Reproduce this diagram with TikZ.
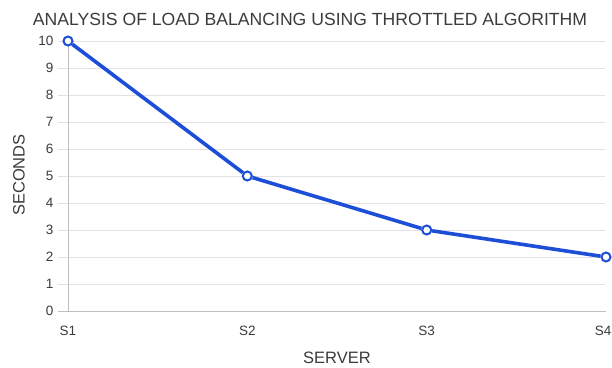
\documentclass[tikz,border=0pt]{standalone}
\usepackage{fontspec}
\setmainfont{Liberation Sans}
\usepackage{xcolor}
\usepackage{tikz}
\definecolor{lineblue}{RGB}{28,78,216}
\definecolor{gridgray}{RGB}{226,226,226}
\definecolor{axisgray}{RGB}{190,190,190}
\definecolor{textgray}{RGB}{60,60,60}
\newcommand{\gridrow}[2]{\draw [gridgray,line width=0.8pt] (58,#1) -- (605,#1);
  \node [anchor=east,text=textgray,font=\fontsize{13.5}{15}\selectfont] (y#2) at (57,#1) {#2}}

\begin{document}
\begin{tikzpicture}[x=1pt,y=1pt,
    point/.style={circle,draw=lineblue,fill=white,line width=2pt,inner sep=0pt,minimum size=9pt},
    dataline/.style={lineblue,line width=3.6pt,line join=round},
    ticklabel/.style={text=textgray,font=\fontsize{13.5}{15}\selectfont},
    axistitle/.style={text=textgray,font=\fontsize{16.5}{18}\selectfont}]
    \useasboundingbox (0,0) rectangle (612,367);
    \fill [white] (0,0) rectangle (612,367);

    \gridrow{83}{1};
    \gridrow{110}{2};
    \gridrow{137}{3};
    \gridrow{164}{4};
    \gridrow{191}{5};
    \gridrow{218}{6};
    \gridrow{245}{7};
    \gridrow{272}{8};
    \gridrow{299}{9};
    \gridrow{326}{10};
    \node [ticklabel,anchor=east] (y0) at (57,56) {0};

    \coordinate (origin) at (68,56);
    \coordinate (top) at (68,326);
    \coordinate (right) at (606,56);
    \draw [axisgray,line width=0.9pt] (58,56) -- (right);
    \draw [axisgray,line width=0.9pt] (origin) -- (top);

    \node [point] (s1) at (68,326) {};
    \node [point] (s2) at (247.3,191) {};
    \node [point] (s3) at (426.7,137) {};
    \node [point] (s4) at (606,110) {};
    \draw [dataline] (s1) -- (s2) -- (s3) -- (s4);

    \node [ticklabel] (l1) at (68,36) {S1};
    \node [ticklabel] (l2) at (247.3,36) {S2};
    \node [ticklabel] (l3) at (426.7,36) {S3};
    \node [ticklabel] (l4) at (603,36) {S4};

    \node [axistitle] (xtitle) at (337,9) {SERVER};
    \node [axistitle,rotate=90] (ytitle) at (19,192) {SECONDS};
    \node [text=textgray,font=\fontsize{17.6}{20}\selectfont] (title) at (310,348) {ANALYSIS OF LOAD BALANCING USING THROTTLED ALGORITHM};
  \end{tikzpicture}
\end{document}
